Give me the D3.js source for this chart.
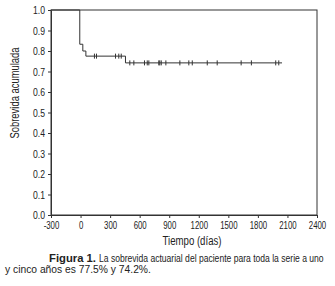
<!DOCTYPE html>
<html>
<head>
<meta charset="utf-8">
<script src="https://cdn.jsdelivr.net/npm/d3@7"></script>
<style>
  body { margin: 0; background: #fff; }
  svg text { font-family: "Liberation Sans", Arial, sans-serif; fill: #222; }
</style>
</head>
<body>
<div id="chart"></div>
<script>
// Kaplan-Meier steps: time (days) and survival after the step
const stepTimes = [-300, -8, 23, 54, 456];
const stepValues = [1.0, 0.833, 0.80, 0.775, 0.742];
const lastTime = 2045;

// censored patients (days)
const censored = [141, 162, 355, 388, 413, 500, 541, 649, 677, 693, 794, 804, 819, 866,
                  1008, 1099, 1134, 1286, 1387, 1630, 1734, 1981, 2012];

const xTicks = [-300, 0, 300, 600, 900, 1200, 1500, 1800, 2100, 2400];
const yTicks = [0, 0.1, 0.2, 0.3, 0.4, 0.5, 0.6, 0.7, 0.8, 0.9, 1.0];

const margin = {top: 10, right: 18, bottom: 71, left: 51},
      width = 335 - margin.left - margin.right,
      height = 286 - margin.top - margin.bottom;

const svg = d3.select("#chart")
              .append("svg")
              .attr("width", 335)
              .attr("height", 286);

const g = svg.append("g")
             .attr("transform", `translate(${margin.left},${margin.top})`);

const x = d3.scaleLinear().domain([-300, 2400]).range([0, width]);
const y = d3.scaleLinear().domain([0, 1]).range([height, 0]);

// squeeze text to look like the narrow face of the original
function narrow(sel, f) {
  sel.each(function() {
    const w = this.getComputedTextLength();
    d3.select(this).attr("textLength", w * f).attr("lengthAdjust", "spacingAndGlyphs");
  });
}

// text squeezed horizontally to a given width, left edge at (x0, y0)
function squeezed(str, x0, y0, w, bold) {
  const t = svg.append("text")
     .style("font-size", "11.5px")
     .style("font-weight", bold ? "bold" : "normal")
     .text(str);
  const s = w / t.node().getComputedTextLength();
  t.attr("transform", `translate(${x0},${y0}) scale(${s},1)`);
  return t;
}

// frame
g.append("rect")
 .attr("width", width).attr("height", height)
 .attr("fill", "none").attr("stroke", "#333").attr("stroke-width", 1);

const xAxis = g.append("g")
   .attr("transform", `translate(0,${height})`)
   .call(d3.axisBottom(x).tickValues(xTicks).tickFormat(d => String(d)).tickSize(3).tickSizeOuter(0));
xAxis.selectAll("text").attr("y", 6).attr("dy", "0.71em").style("font-size", "11.5px").call(narrow, 0.68);

const yAxis = g.append("g")
   .call(d3.axisLeft(y).tickValues(yTicks).tickFormat(d3.format(".1f")).tickSize(3).tickSizeOuter(0));
yAxis.selectAll("text").style("font-size", "11.5px").attr("x", -6).call(narrow, 0.75);

g.selectAll(".domain, .tick line").attr("stroke", "#333");

// survival step line
const pts = stepTimes.map((t, i) => [t, stepValues[i]]);
pts.push([lastTime, stepValues[stepValues.length - 1]]);
const line = d3.line().x(d => x(d[0])).y(d => y(d[1])).curve(d3.curveStepAfter);
g.append("path")
 .datum(pts)
 .attr("d", line)
 .attr("fill", "none")
 .attr("stroke", "#333")
 .attr("stroke-width", 1);

// survival at a given time
function survAt(t) {
  let s = stepValues[0];
  stepTimes.forEach((st, i) => { if (t >= st) s = stepValues[i]; });
  return s;
}

g.selectAll(".cens")
 .data(censored)
 .enter()
 .append("line")
 .attr("x1", d => x(d)).attr("x2", d => x(d))
 .attr("y1", d => y(survAt(d)) - 2.5)
 .attr("y2", d => y(survAt(d)) + 2.5)
 .attr("stroke", "#333")
 .attr("stroke-width", 1);

// labels
svg.append("text")
   .attr("x", 192)
   .attr("y", 245)
   .attr("text-anchor", "middle")
   .attr("textLength", 59).attr("lengthAdjust", "spacingAndGlyphs")
   .style("font-size", "12px")
   .text("Tiempo (días)");

svg.append("text")
   .attr("transform", "translate(19,93) rotate(-90)")
   .attr("text-anchor", "middle")
   .attr("textLength", 91).attr("lengthAdjust", "spacingAndGlyphs")
   .style("font-size", "12px")
   .text("Sobrevida acumulada");

squeezed("Figura 1.", 49, 262, 47, true);
squeezed("La sobrevida actuarial del paciente para toda la serie a uno", 99, 262, 225, false);
squeezed("y cinco años es 77.5% y 74.2%.", 5, 273, 146, false);
</script>
</body>
</html>
